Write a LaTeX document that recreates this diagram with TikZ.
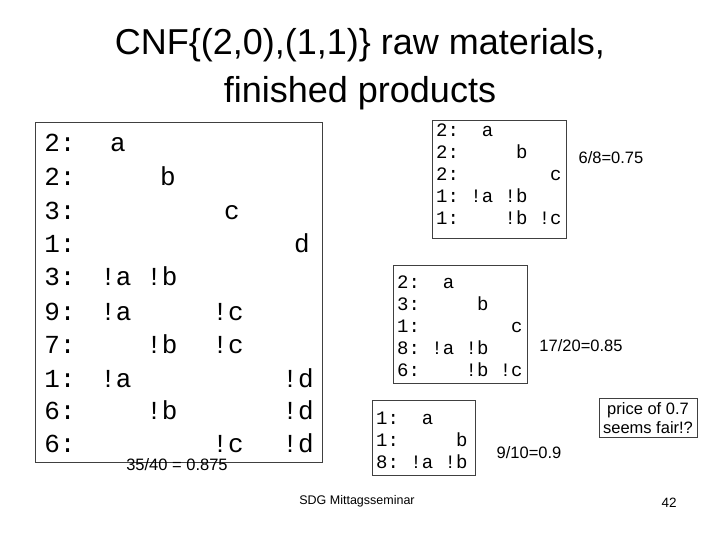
\documentclass[tikz,border=0pt]{standalone}
\usepackage{fontspec}
\setmainfont{Liberation Sans}
\setmonofont{Liberation Mono}
\begin{document}
\begin{tikzpicture}[x=1pt,y=-1pt,
  box/.style={draw=black!75,line width=0.8pt},
  tok/.style={font=\fontsize{26}{26}\ttfamily,inner sep=0pt,anchor=base},
  small/.style={font=\fontsize{19}{22}\ttfamily,inner sep=0pt,anchor=north west,align=left},
  lab/.style={font=\fontsize{16.5}{19}\selectfont,inner sep=0pt}]
\useasboundingbox (0,0) rectangle (720,540);
\node[font=\fontsize{36}{48}\selectfont,align=center] (title) at (360,69) {CNF\{(2,0),(1,1)\} raw materials,\\finished products};
\draw[box] (35,122) rectangle (322,462);
\foreach \r/\y/\n in {1/152/2:,2/186/2:,3/220/3:,4/252/1:,5/285/3:,6/320/9:,7/353/7:,8/387/1:,9/419/6:,10/452/6:}
  \node[tok] (l\r) at (60,\y) {\n};
\node[tok] (a1) at (118,152) {a};
\node[tok] (b2) at (168,186) {b};
\node[tok] (c3) at (232,220) {c};
\node[tok] (d4) at (302,252) {d};
\node[tok] (a5) at (116,285) {!a}; \node[tok] (b5) at (162,285) {!b};
\node[tok] (a6) at (116,320) {!a}; \node[tok] (c6) at (228,320) {!c};
\node[tok] (b7) at (162,353) {!b}; \node[tok] (c7) at (228,353) {!c};
\node[tok] (a8) at (116,387) {!a}; \node[tok] (d8) at (298,387) {!d};
\node[tok] (b9) at (162,419) {!b}; \node[tok] (d9) at (298,419) {!d};
\node[tok] (c10) at (228,452) {!c}; \node[tok] (d10) at (298,452) {!d};
\node[lab] (r1) at (177,465) {35/40 = 0.875};
\draw[box] (432,120) rectangle (566,238);
\node[small] (t1) at (436,124) {2:~~a\\2:~~~~~b\\2:~~~~~~~~c\\1:~!a~!b\\1:~~~~!b~!c};
\node[lab] (r2) at (611,158) {6/8=0.75};
\draw[box] (393,265) rectangle (527,383);
\node[small] (t2) at (397,276) {2:~~a\\3:~~~~~b\\1:~~~~~~~~c\\8:~!a~!b\\6:~~~~!b~!c};
\node[lab] (r3) at (581,346) {17/20=0.85};
\draw[box] (372,400) rectangle (475,475);
\node[small] (t3) at (376,412) {1:~~a\\1:~~~~~b\\8:~!a~!b};
\node[lab] (r4) at (529,453) {9/10=0.9};
\node[lab,draw=black!75,line width=0.8pt,inner sep=4pt,align=center] (p) at (648,418) {price of 0.7\\seems fair!?};
\node[font=\fontsize{12.5}{14}\selectfont] (f) at (357,501) {SDG Mittagsseminar};
\node[font=\fontsize{13.5}{14}\selectfont] (n) at (669,503) {42};
\end{tikzpicture}
\end{document}
